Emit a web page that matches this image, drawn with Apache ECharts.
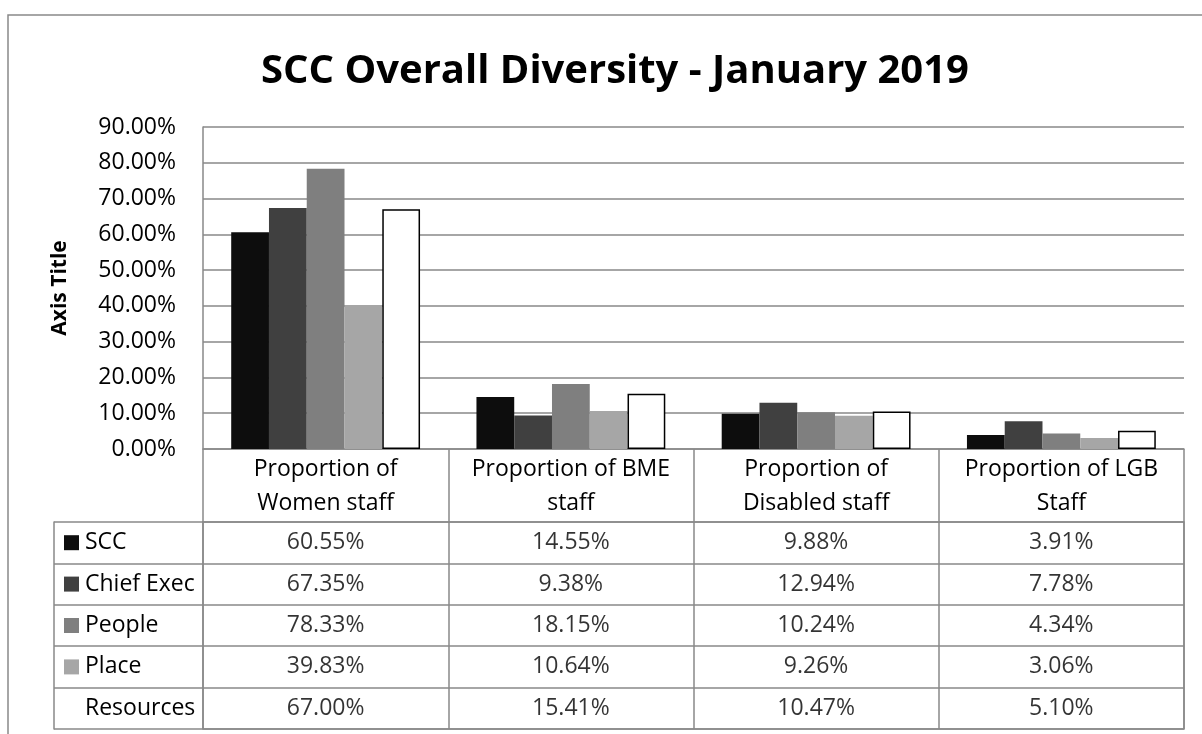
<!DOCTYPE html>
<html>
<head>
<meta charset="utf-8">
<style>
  html, body { margin: 0; padding: 0; background: #fff; }
  #chart { width: 1202px; height: 734px; }
</style>
<script src="https://cdn.jsdelivr.net/npm/echarts@6/dist/echarts.min.js"></script>
</head>
<body>
<div id="chart"></div>
<script>
// categories (already broken into two lines like the Excel header row)
const categories = [
  "Proportion of\nWomen staff",
  "Proportion of BME\nstaff",
  "Proportion of\nDisabled staff",
  "Proportion of LGB\nStaff"
];
const seriesNames = ["SCC", "Chief Exec", "People", "Place", "Resources"];
// values in percent
const scc = [60.55, 14.55, 9.88, 3.91];
const chiefExec = [67.35, 9.38, 12.94, 7.78];
const people = [78.33, 18.15, 10.24, 4.34];
const place = [39.83, 10.64, 9.26, 3.06];
const resources = [67.0, 15.41, 10.47, 5.1];
const yTicks = [0, 10, 20, 30, 40, 50, 60, 70, 80, 90];

const allValues = [scc, chiefExec, people, place, resources];
const colors = ["#0d0d0d", "#404040", "#7f7f7f", "#a6a6a6", "#ffffff"];
const lineGray = "#898989";
const font = "Open Sans";

// 表格单元格：[列, 行, 数值]
const tableData = [];
allValues.forEach((vals, s) => {
  vals.forEach((v, c) => tableData.push([c, s, v]));
});

const rich = { t: { fontFamily: font, fontSize: 23, color: "#000", padding: [0, 0, 0, 6] } };
colors.forEach((c, i) => {
  rich["s" + i] = { width: 15, height: 15, backgroundColor: c };
});

const barSeries = seriesNames.map((name, i) => ({
  name: name,
  type: "bar",
  xAxisIndex: 0,
  yAxisIndex: 0,
  barGap: "0%",
  barCategoryGap: "23%",
  data: allValues[i],
  itemStyle: i === 4
    ? { color: "#fff", borderColor: "#000", borderWidth: 1.5 }
    : { color: colors[i] }
}));

const chart = echarts.init(document.getElementById("chart"));
chart.setOption({
  animation: false,
  backgroundColor: "#fff",
  textStyle: { fontFamily: font },
  title: {
    text: "SCC Overall Diversity - January 2019",
    left: 610,
    textAlign: "center",
    top: 47,
    textStyle: { fontFamily: font, fontSize: 40, fontWeight: "bold", color: "#000" }
  },
  graphic: [{
    type: "rect",
    shape: { x: 8, y: 15, width: 1250, height: 800 },
    style: { fill: "none", stroke: lineGray, lineWidth: 1.5 },
    silent: true
  }],
  grid: [
    { left: 203, right: 18, top: 127, bottom: 285 },
    { left: 203, right: 18, top: 522, bottom: 5, show: true, borderColor: lineGray, borderWidth: 1.5 }
  ],
  xAxis: [
    {
      type: "category",
      gridIndex: 0,
      data: categories,
      axisLine: { lineStyle: { color: lineGray, width: 1.5 } },
      axisTick: { show: true, interval: 0, length: 73, lineStyle: { color: lineGray, width: 1.5 } },
      axisLabel: { interval: 0, margin: 3, fontFamily: font, fontSize: 23, lineHeight: 34, color: "#000" }
    },
    {
      type: "category",
      gridIndex: 1,
      data: categories,
      position: "top",
      axisLine: { show: false },
      axisTick: { show: false },
      axisLabel: { show: false },
      splitLine: { show: true, interval: 0, lineStyle: { color: lineGray, width: 1.5 } }
    }
  ],
  yAxis: [
    {
      type: "value",
      gridIndex: 0,
      min: yTicks[0],
      max: yTicks[yTicks.length - 1],
      interval: 10,
      name: "Axis Title",
      nameLocation: "middle",
      nameGap: 132,
      nameTextStyle: { fontFamily: font, fontSize: 21, fontWeight: "bold", color: "#000" },
      axisLine: { show: true, lineStyle: { color: lineGray, width: 1.5 } },
      axisTick: { show: false },
      axisLabel: { margin: 27, fontFamily: font, fontSize: 23, color: "#000", formatter: v => v.toFixed(2) + "%" },
      splitLine: { show: true, lineStyle: { color: lineGray, width: 1.5 } }
    },
    {
      type: "category",
      gridIndex: 1,
      data: seriesNames,
      inverse: true,
      axisLine: { show: false },
      axisTick: { show: true, interval: 0, length: 149, lineStyle: { color: lineGray, width: 1.5 } },
      axisLabel: {
        interval: 0,
        align: "left",
        margin: 139,
        formatter: (v, i) => "{s" + i + "|}{t|" + v + "}",
        rich: rich
      },
      splitLine: { show: true, interval: 0, lineStyle: { color: lineGray, width: 1.5 } }
    },
    {
      // 图例列左边框
      type: "category",
      gridIndex: 1,
      data: seriesNames,
      position: "left",
      offset: 149,
      axisLine: { show: true, lineStyle: { color: lineGray, width: 1.5 } },
      axisTick: { show: false },
      axisLabel: { show: false },
      splitLine: { show: false }
    }
  ],
  series: barSeries.concat([{
    type: "scatter",
    xAxisIndex: 1,
    yAxisIndex: 1,
    symbolSize: 1,
    itemStyle: { color: "transparent" },
    data: tableData,
    label: {
      show: true,
      position: "inside",
      fontFamily: font,
      fontSize: 23,
      color: "#000",
      formatter: p => p.value[2].toFixed(2) + "%"
    }
  }])
});
</script>
</body>
</html>
